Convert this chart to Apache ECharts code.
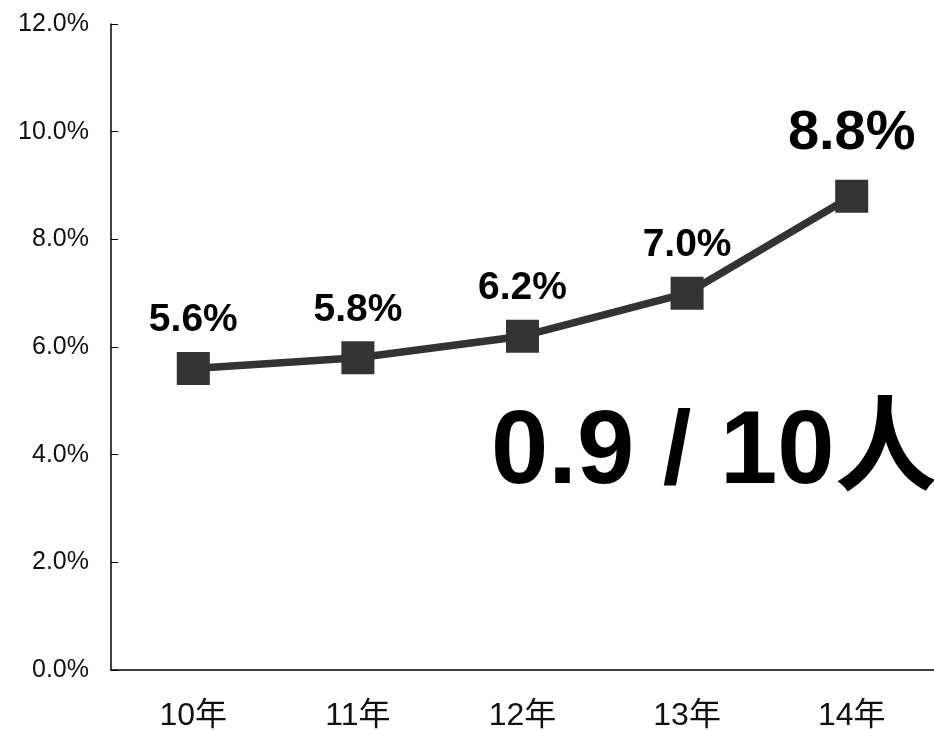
<!DOCTYPE html>
<html><head><meta charset="utf-8">
<script src="https://cdn.jsdelivr.net/npm/echarts@6/dist/echarts.min.js"></script>
<style>html,body{margin:0;padding:0;background:#fff}#c{width:934px;height:730px}</style>
</head><body><div id="c"></div>
<script>
const categories = ['10年','11年','12年','13年','14年'];
const values = [5.6, 5.8, 6.2, 7.0, 8.8];
const labelSizes = [39, 39, 39, 39, 56];
const annotation = '0.9 / 10人';
const FONT = '"Liberation Sans", Arial, "Noto Sans CJK SC", sans-serif';

const chart = echarts.init(document.getElementById('c'));
chart.setOption({
  animation: false,
  grid: { left: 111, right: 0, top: 24, bottom: 60, outerBoundsMode: 'none', containLabel: false },
  xAxis: {
    type: 'category', data: categories, boundaryGap: true,
    axisLine: { lineStyle: { color: '#000', width: 1.5 } },
    axisTick: { inside: true, length: 10, lineStyle: { color: '#999' } },
    axisLabel: { fontSize: 32, color: '#111', fontFamily: FONT, margin: 30 }
  },
  yAxis: {
    type: 'value', min: 0, max: 12, interval: 2,
    axisLine: { show: true, lineStyle: { color: '#000', width: 1.5 } },
    axisTick: { show: true, inside: true, length: 7, lineStyle: { color: '#000' } },
    splitLine: { show: false },
    axisLabel: { fontSize: 25, color: '#111', fontFamily: FONT, margin: 22,
      formatter: v => v.toFixed(1) + '%' }
  },
  series: [{
    type: 'line',
    data: values.map((v, i) => ({
      value: v,
      label: { fontSize: labelSizes[i], distance: i === 4 ? 18 : 12 }
    })),
    symbol: 'rect', symbolSize: 33,
    lineStyle: { color: '#333', width: 7.5 },
    itemStyle: { color: '#333' },
    label: { show: true, position: 'top', fontWeight: 'bold', color: '#000',
      fontFamily: FONT, formatter: p => p.value.toFixed(1) + '%' }
  }],
  graphic: [{
    type: 'text', left: 491, top: 403,
    style: { text: annotation, font: 'bold 103px ' + FONT, fill: '#000' }
  }]
});
</script></body></html>
